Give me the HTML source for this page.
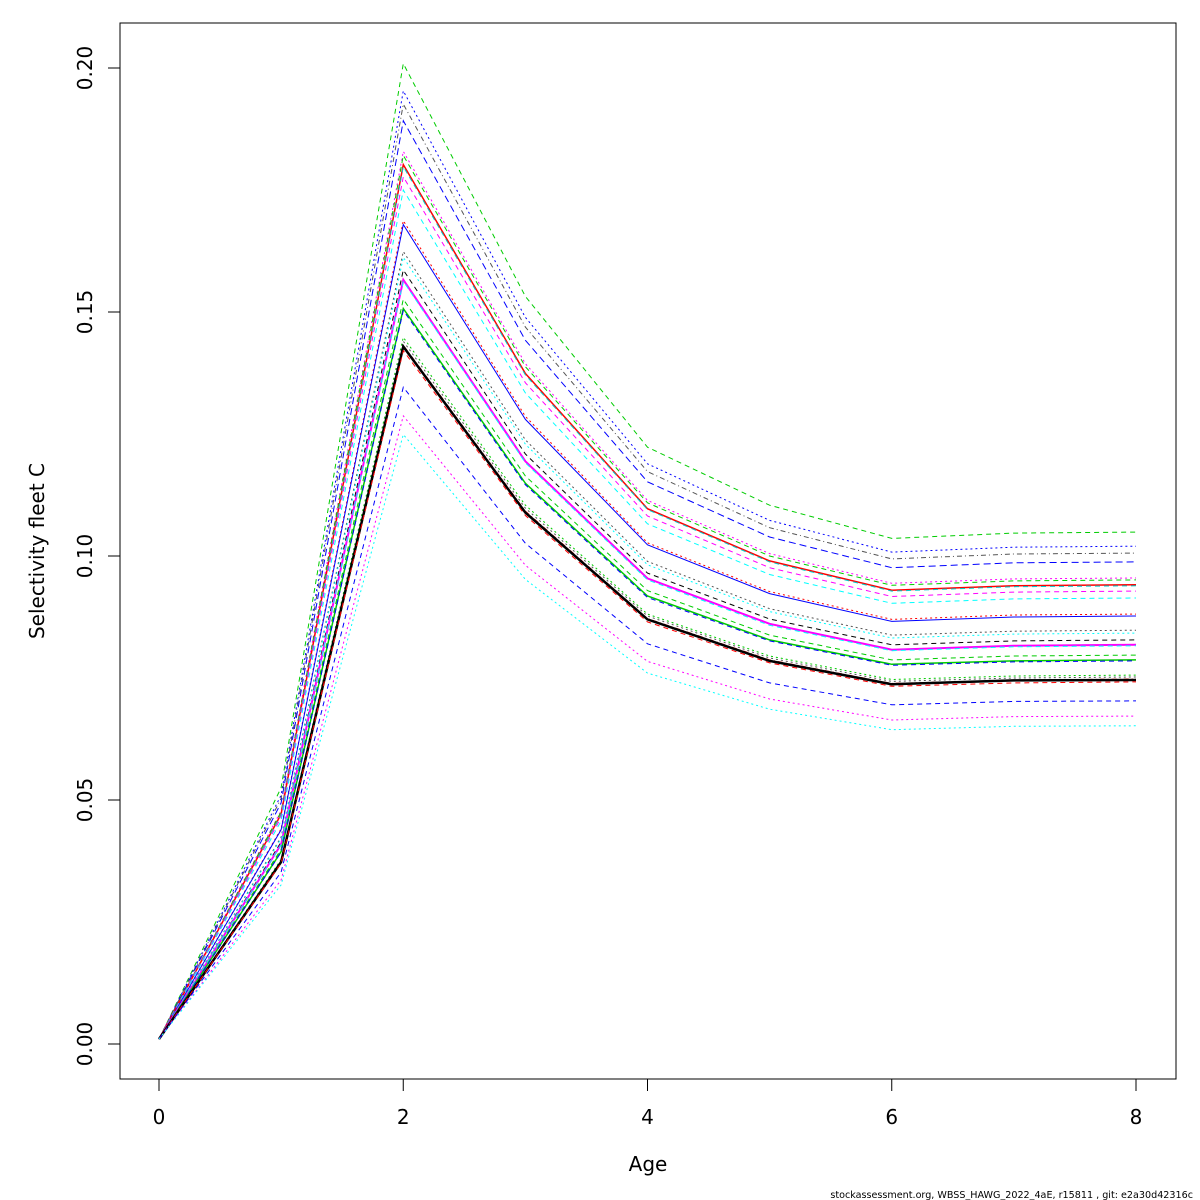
<!DOCTYPE html>
<html><head><meta charset="utf-8"><style>
body{margin:0;background:#fff;}
svg{display:block;font-family:"DejaVu Sans","Liberation Sans",sans-serif;}
</style></head><body>
<svg id="chart" width="1200" height="1200" viewBox="0 0 1200 1200">
<rect x="0" y="0" width="1200" height="1200" fill="#fff"/>
<g id="lines"></g>
<rect x="120" y="23" width="1056" height="1056" fill="none" stroke="#000" stroke-width="1"/>
<g id="axes"></g>
<text x="648" y="1171" font-size="20" text-anchor="middle">Age</text>
<text transform="translate(44,551) rotate(-90)" font-size="20" text-anchor="middle">Selectivity fleet C</text>
<text x="1193" y="1198" font-size="9.6" text-anchor="end">stockassessment.org, WBSS_HAWG_2022_4aE, r15811 , git: e2a30d42316c</text>
</svg>
<script>
const ages=[0,1,2,3,4,5,6,7,8];
const xTicks=[0,2,4,6,8];
const yTicks=[0,0.05,0.10,0.15,0.20];
const yTickLabels=["0.00","0.05","0.10","0.15","0.20"];
const s01=[0.001,0.0525,0.2009,0.1532,0.1223,0.1104,0.1036,0.1047,0.1049];
const s02=[0.001,0.0510,0.1953,0.1489,0.1189,0.1073,0.1008,0.1018,0.1020];
const s03=[0.001,0.0503,0.1926,0.1469,0.1173,0.1058,0.0994,0.1004,0.1006];
const s04=[0.001,0.0494,0.1892,0.1442,0.1152,0.1039,0.0976,0.0986,0.0988];
const s05=[0.001,0.0478,0.1829,0.1394,0.1114,0.1005,0.0944,0.0953,0.0955];
const s06=[0.001,0.0476,0.1821,0.1388,0.1109,0.1000,0.0940,0.0949,0.0951];
const s07=[0.001,0.0471,0.1802,0.1374,0.1097,0.0990,0.0930,0.0939,0.0941];
const s08=[0.001,0.0470,0.1798,0.1371,0.1095,0.0988,0.0928,0.0937,0.0939];
const s09=[0.001,0.0464,0.1777,0.1355,0.1082,0.0976,0.0917,0.0926,0.0928];
const s10=[0.001,0.0457,0.1750,0.1334,0.1066,0.0962,0.0903,0.0912,0.0914];
const s11=[0.001,0.0441,0.1687,0.1286,0.1027,0.0927,0.0870,0.0879,0.0881];
const s12=[0.001,0.0439,0.1679,0.1280,0.1023,0.0923,0.0866,0.0875,0.0877];
const s13=[0.001,0.0424,0.1624,0.1238,0.0989,0.0892,0.0838,0.0846,0.0848];
const s14=[0.001,0.0421,0.1612,0.1229,0.0982,0.0886,0.0832,0.0840,0.0842];
const s15=[0.001,0.0414,0.1586,0.1209,0.0965,0.0871,0.0818,0.0826,0.0828];
const s16=[0.001,0.0409,0.1566,0.1194,0.0954,0.0861,0.0808,0.0816,0.0818];
const s17=[0.001,0.0408,0.1563,0.1191,0.0951,0.0858,0.0806,0.0814,0.0816];
const s18=[0.001,0.0399,0.1526,0.1164,0.0929,0.0838,0.0787,0.0795,0.0797];
const s19=[0.001,0.0394,0.1507,0.1149,0.0918,0.0828,0.0778,0.0785,0.0787];
const s20=[0.001,0.0393,0.1503,0.1146,0.0915,0.0826,0.0776,0.0783,0.0785];
const s21=[0.001,0.0378,0.1448,0.1104,0.0881,0.0795,0.0747,0.0754,0.0756];
const s22=[0.001,0.0376,0.1440,0.1098,0.0877,0.0791,0.0743,0.0750,0.0752];
const s23=[0.001,0.0374,0.1432,0.1092,0.0872,0.0787,0.0739,0.0746,0.0748];
const s24=[0.001,0.0373,0.1429,0.1089,0.0870,0.0785,0.0737,0.0745,0.0746];
const s25=[0.001,0.0371,0.1421,0.1083,0.0865,0.0781,0.0733,0.0740,0.0742];
const s26=[0.001,0.0352,0.1346,0.1026,0.0820,0.0740,0.0695,0.0702,0.0703];
const s27=[0.001,0.0336,0.1287,0.0981,0.0784,0.0707,0.0664,0.0671,0.0672];
const s28=[0.001,0.0326,0.1249,0.0952,0.0760,0.0686,0.0644,0.0651,0.0652];
const seriesValues=[s01,s02,s03,s04,s05,s06,s07,s08,s09,s10,s11,s12,s13,s14,s15,s16,s17,s18,s19,s20,s21,s22,s23,s24,s25,s26,s27,s28];
const seriesColors=["#0c0","#00f","#555","#00f","#f0f","#0c0","#f00","#0cc","#f0f","#0ff","#f00","#00f","#555","#0ff","#000","#f0f","#0ff","#0c0","#0c0","#00f","#0c0","#555","#f00","#000","#f00","#00f","#f0f","#0ff"];
const seriesDash=["5 4","2 3","1 3 5 3","7 4","2 3","5 4","0","5 4","5 4","5 4","2 3","0","2 3","2 3","5 4","0","5 4","5 4","0","5 4","2 3","2 3","1 3 5 3","0","5 4","5 4","2 3","2 3"];
const seriesWidth=[1,1,1,1,1,1,1.5,1,1,1,1,1,1,1,1,2,1,1,1.5,1,1,1,1,2.5,1,1,1,1];

const ns="http://www.w3.org/2000/svg";
function xs(v){return 159+(v-0)*(1136-159)/8;}
function ys(v){return 1044-v*(1044-68)/0.2;}
const lg=document.getElementById('lines');
seriesValues.forEach((vals,i)=>{
  const p=document.createElementNS(ns,'polyline');
  
  
  p.setAttribute('points',vals.map((v,k)=>xs(ages[k]).toFixed(1)+','+ys(v).toFixed(1)).join(' '));
  p.setAttribute('fill','none');
  p.setAttribute('stroke',seriesColors[i]);
  p.setAttribute('stroke-width',seriesWidth[i]);
  if(seriesDash[i]!=="0")p.setAttribute('stroke-dasharray',seriesDash[i]);
  lg.appendChild(p);
});
const ax=document.getElementById('axes');
xTicks.forEach(t=>{
  const l=document.createElementNS(ns,'line');
  
  
  l.setAttribute('x1',xs(t));l.setAttribute('x2',xs(t));
  l.setAttribute('y1',1079);l.setAttribute('y2',1091);
  l.setAttribute('stroke','#000');
  ax.appendChild(l);
  const tx=document.createElementNS(ns,'text');
  
  
  tx.setAttribute('x',xs(t));tx.setAttribute('y',1124);
  tx.setAttribute('font-size','20');tx.setAttribute('text-anchor','middle');
  tx.textContent=String(t);
  ax.appendChild(tx);
});
yTicks.forEach((t,i)=>{
  const l=document.createElementNS(ns,'line');
  
  
  l.setAttribute('x1',108);l.setAttribute('x2',120);
  l.setAttribute('y1',ys(t));l.setAttribute('y2',ys(t));
  l.setAttribute('stroke','#000');
  ax.appendChild(l);
  const tx=document.createElementNS(ns,'text');
  
  
  tx.setAttribute('transform','translate(92,'+ys(t)+') rotate(-90)');
  tx.setAttribute('font-size','20');tx.setAttribute('text-anchor','middle');
  tx.textContent=yTickLabels[i];
  ax.appendChild(tx);
});
</script>
</body></html>
